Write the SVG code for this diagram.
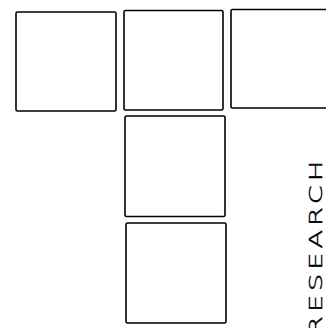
<svg xmlns="http://www.w3.org/2000/svg" width="326" height="328" viewBox="0 0 326 328">
<style>
.box{fill:#fff;stroke:#000;stroke-width:1.6}
.lbl{font-family:"DejaVu Sans",sans-serif;font-weight:300;font-size:17px;letter-spacing:2.5px;fill:#000;stroke:#000;stroke-width:0.45}
</style>
<rect width="326" height="328" fill="#fff"/>
<g id="box1"><rect class="box" x="16" y="12" width="100" height="99" rx="1.5"/></g>
<g id="box2"><rect class="box" x="124" y="10.5" width="99" height="99.5" rx="1.5"/></g>
<g id="box3"><rect class="box" x="231" y="9.5" width="100" height="98.5" rx="1.5"/></g>
<g id="box4"><rect class="box" x="125" y="116" width="100" height="100.5" rx="1.5"/></g>
<g id="box5"><rect class="box" x="126" y="223" width="100" height="100" rx="1.5"/></g>
<g id="connectors"></g>
<text class="lbl" transform="translate(321.5,335) rotate(-90) scale(1.6,1)">RESEARCH</text>
</svg>
